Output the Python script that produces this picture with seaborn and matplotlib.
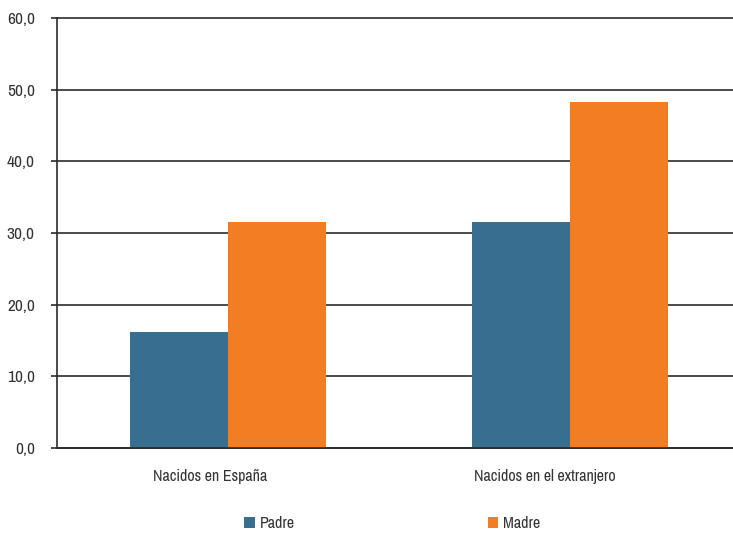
import matplotlib
matplotlib.use("Agg")
import matplotlib.pyplot as plt
import matplotlib.transforms as mtransforms
from matplotlib.patches import Patch
import seaborn as sns
import pandas as pd

# Data
categories = ["Nacidos en España", "Nacidos en el extranjero"]
padre = [16.2, 31.5]
madre = [31.5, 48.3]
series_names = ["Padre", "Madre"]
colors = ["#386E8F", "#F37D23"]
y_ticks = [0, 10, 20, 30, 40, 50, 60]

df = pd.DataFrame({
    "categoria": categories * 2,
    "valor": padre + madre,
    "serie": [series_names[0]] * len(categories) + [series_names[1]] * len(categories),
})

sns.set_style("white")
plt.rcParams["font.family"] = ["Archivo Narrow", "DejaVu Sans"]
text_color = "#333333"
line_color = "#2b2b2b"
fs = 11.5

fig = plt.figure(figsize=(7.33, 5.33), dpi=100)
ax = fig.add_axes([0.0778, 0.160, 0.9222, 0.8057])

sns.barplot(data=df, x="categoria", y="valor", hue="serie", palette=colors,
            width=0.573, saturation=1, linewidth=0, legend=False, ax=ax)

ax.set_ylim(0, 60)
ax.set_xlim(-0.5, 1.477)
ax.set_yticks(y_ticks)
ax.set_yticklabels([f"{v:.1f}".replace(".", ",") for v in y_ticks],
                   fontsize=12.5, color=text_color)
ax.yaxis.grid(True, color=line_color, linewidth=1.2)
for gl in ax.get_ygridlines():
    gl.set_clip_on(False)
ax.set_axisbelow(True)

# category labels without ticks, boundary ticks without labels
ax.set_xticks([0, 1])
ax.set_xticklabels(categories, fontsize=fs, color=text_color)
ax.tick_params(axis="x", length=0, pad=15)
for lab, shift in zip(ax.get_xticklabels(), [-18, -25]):
    offset = mtransforms.ScaledTranslation(shift / 100, 0, fig.dpi_scale_trans)
    lab.set_transform(lab.get_transform() + offset)
ax.set_xticks([-0.5, 0.5], minor=True)
ax.tick_params(axis="x", which="minor", length=5, width=1.2, color=line_color)
ax.tick_params(axis="y", length=4, width=1.2, color=line_color, pad=12, left=True)

ax.set_xlabel("")
ax.set_ylabel("")
for side in ["top", "right"]:
    ax.spines[side].set_visible(False)
for side in ["left", "bottom"]:
    ax.spines[side].set_color(line_color)
    ax.spines[side].set_linewidth(1.2)

handles = [Patch(facecolor=c, edgecolor="none") for c in colors]
fig.legend(handles, series_names, loc="center", bbox_to_anchor=(0.535, 0.018),
           ncol=2, frameon=False, fontsize=fs, handlelength=0.65,
           handleheight=0.65, handletextpad=0.3, columnspacing=12.1,
           labelcolor=text_color)

fig.savefig("out.png", dpi=100)
